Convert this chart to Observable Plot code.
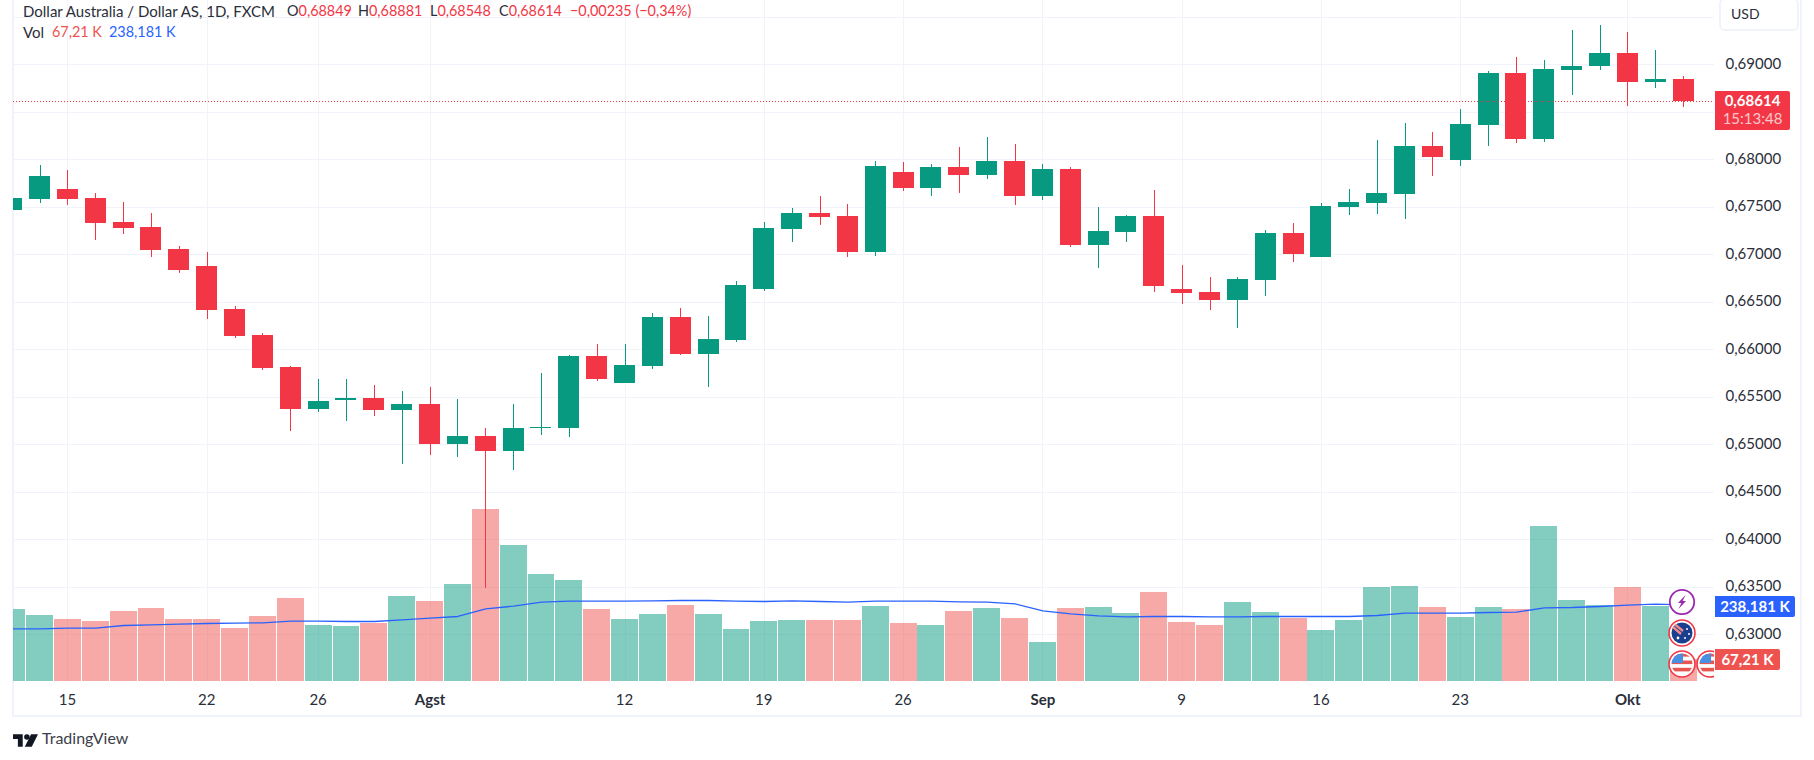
<!DOCTYPE html>
<html>
<head>
<meta charset="utf-8">
<script src="https://cdn.jsdelivr.net/npm/d3@7"></script>
<script src="https://cdn.jsdelivr.net/npm/@observablehq/plot@0.6"></script>
<style>
  html, body { margin: 0; padding: 0; background: #fff; }
  body { width: 1814px; height: 760px; position: relative; overflow: hidden; font-family: "Lato", "Open Sans", sans-serif; color: #131722; }
  #chart { position: absolute; left: 0; top: 0; }
  #chart svg { display: block; background: transparent; }
  .abs { position: absolute; white-space: nowrap; }
  .frame { position: absolute; left: 12px; top: 0; width: 1786px; height: 715px; border-left: 2px solid #f0f3fa; border-right: 2px solid #f0f3fa; border-bottom: 2px solid #f0f3fa; }
  .leg { font-size: 15px; line-height: 18px; color: #2a2e39; }
  .val { font-size: 14.4px; }
  .red { color: #f23645; }
  .tag { color: #fff; text-align: center; border-radius: 0 2px 2px 0; }
</style>
</head>
<body>
<div class="frame"></div>
<div id="chart"></div>
<script>
// Bars are trading days; index 0 is 15 Jul, index 58 is 3 Oct
const barIndex = d3.range(-2, 59);
const open = [
  .67467,.67582,.67688,.67593,.67340,.67288,.67056,.66877,.66424,.66151,.65814,.65372,.65467,.65488,.65361,.65424,
  .65003,.65088,.64930,.65172,.65172,.65930,.65646,.65824,.66340,.65951,.66098,.66635,.67267,.67435,.67403,.67025,
  .67867,.67698,.67919,.67835,.67982,.67614,.67898,.67098,.67235,.67403,.66635,.66603,.66519,.66730,.67224,.66972,
  .67498,.67540,.67635,.68140,.67993,.68361,.68909,.68214,.68940,.68982,.69119,.68814,.68849
];
const high = [
  .67600,.67940,.67888,.67646,.67551,.67435,.67088,.67025,.66456,.66172,.65824,.65688,.65688,.65624,.65561,.65603,
  .65477,.65172,.65424,.65751,.65940,.66056,.66056,.66382,.66435,.66351,.66719,.67340,.67488,.67614,.67530,.67982,
  .67972,.67951,.68130,.68235,.68161,.67951,.67919,.67498,.67414,.67677,.66888,.66761,.66761,.67256,.67330,.67540,
  .67688,.68203,.68382,.68288,.68530,.68930,.69077,.69046,.69361,.69414,.69340,.69151,.68881
];
const low = [
  .67450,.67540,.67519,.67151,.67214,.66972,.66803,.66319,.66119,.65782,.65140,.65340,.65245,.65298,.64793,.64888,
  .64867,.63490,.64730,.65098,.65077,.65667,.65640,.65793,.65945,.65603,.66077,.66614,.67129,.67309,.66972,.66982,
  .67667,.67614,.67646,.67793,.67519,.67572,.67077,.66856,.67130,.66603,.66477,.66414,.66224,.66561,.66919,.66970,
  .67414,.67424,.67372,.67824,.67930,.68140,.68172,.68182,.68677,.68940,.68561,.68751,.68548
];
const close = [
  .67593,.67825,.67582,.67330,.67277,.67046,.66835,.66414,.66140,.65803,.65372,.65456,.65488,.65361,.65424,.65003,
  .65088,.64930,.65172,.65182,.65930,.65688,.65835,.66340,.65951,.66109,.66677,.67277,.67435,.67393,.67025,.67930,
  .67698,.67919,.67835,.67982,.67614,.67898,.67098,.67246,.67403,.66667,.66593,.66519,.66740,.67225,.67003,.67509,
  .67551,.67646,.68140,.68025,.68372,.68909,.68214,.68951,.68982,.69119,.68814,.68846,.68614
];
const volume = [
  223.6,205.0,192.6,186.3,217.4,226.7,192.6,192.6,164.6,201.9,257.8,173.9,170.8,180.1,264.0,248.4,
  301.2,534.2,422.4,332.3,313.7,223.6,192.6,208.1,236.0,208.1,161.5,186.3,189.4,189.4,189.4,232.9,
  180.1,173.9,217.4,226.7,195.7,121.1,226.7,229.8,211.2,276.4,183.2,173.9,245.3,214.3,195.7,158.4,
  189.4,291.9,295.0,229.8,198.8,229.8,223.6,481.4,251.6,236.0,291.9,232.9,67.21
];
const volumeMA = [
  163.6,163.6,165.6,165.6,173.9,176.0,178.0,180.1,181.2,182.2,187.4,187.4,186.3,186.3,191.5,196.7,
  201.9,225.7,234.0,246.4,249.5,249.5,249.5,250.5,251.6,251.6,249.5,248.4,250.5,248.4,246.4,249.5,
  249.5,249.5,247.4,246.4,241.2,219.5,210.1,203.9,200.8,201.9,201.9,200.8,200.8,201.9,201.9,201.9,
  201.9,205.0,212.2,212.2,212.2,214.3,215.3,228.8,229.8,232.9,237.1,240.2,238.181
];
const dayTicks = [0, 5, 9, 20, 25, 30, 40, 45, 50];
const dayLabels = ["15", "22", "26", "12", "19", "26", "9", "16", "23"];
const monthTicks = [13, 35, 56];
const monthLabels = ["Agst", "Sep", "Okt"];
const priceTicks = d3.range(0, 14).map(k => +(0.63 + k * 0.005).toFixed(3));
const priceLabelTicks = priceTicks.filter(p => p <= 0.69 && p !== 0.685);

const GREEN = "#089981", RED = "#f23645", VOLRED = "#ef5350", BLUE = "#2962ff", GRID = "#f0f3fa", INK = "#2a2e39";
const FONT = "Lato, 'Open Sans', sans-serif";

const priceFloor = 0.625084, priceCeil = 0.696768;
// The volume pane shares the price scale: 1 K of volume is this many price units
const volumeUnit = 0.322 / 9500;
const volToY = v => priceFloor + v * volumeUnit;

const rows = barIndex.map((i, k) => ({
  i, o: open[k], h: high[k], l: low[k], c: close[k], v: volume[k], ma: volumeMA[k], up: close[k] >= open[k]
}));
const label = (ticks, labels) => d => labels[ticks.indexOf(d)];

const plot = Plot.plot({
  width: 1814, height: 760,
  marginLeft: 13, marginRight: 100, marginTop: 0, marginBottom: 79,
  x: {type: "linear", domain: [-1.953, 59.11], axis: null},
  y: {domain: [priceFloor, priceCeil], axis: null},
  style: {background: "transparent", fontFamily: FONT},
  marks: [
    Plot.gridY(priceTicks, {stroke: GRID, strokeOpacity: 1, strokeWidth: 1, shapeRendering: "crispEdges"}),
    Plot.gridX([...dayTicks, ...monthTicks], {stroke: GRID, strokeOpacity: 1, strokeWidth: 1, shapeRendering: "crispEdges"}),
    Plot.rect(rows, {
      x1: d => d.i - 0.483, x2: d => d.i + 0.483, y1: priceFloor, y2: d => volToY(d.v),
      fill: d => d.up ? GREEN : VOLRED, fillOpacity: 0.5, clip: true, shapeRendering: "crispEdges"
    }),
    Plot.line(rows, {x: "i", y: d => volToY(d.ma), stroke: BLUE, strokeWidth: 1.3, clip: true}),
    Plot.ruleX(rows.slice(1), {x: "i", y1: "l", y2: "h", stroke: d => d.up ? GREEN : RED, strokeWidth: 1, clip: true, shapeRendering: "crispEdges"}),
    Plot.rect(rows, {
      x1: d => d.i - 0.377, x2: d => d.i + 0.377,
      y1: d => Math.min(d.o, d.c), y2: d => Math.max(d.o, d.c),
      fill: d => d.up ? GREEN : RED, clip: true, shapeRendering: "crispEdges"
    }),
    Plot.ruleY([close.at(-1)], {stroke: RED, strokeWidth: 1, strokeDasharray: "1 2", shapeRendering: "crispEdges"}),
    Plot.axisY({
      anchor: "right", ticks: priceLabelTicks, tickSize: 0, tickPadding: 11, label: null, textAnchor: "start",
      tickFormat: d => d.toFixed(5).replace(".", ","), fontSize: 15, fill: INK, dy: -1
    }),
    Plot.axisX({
      anchor: "bottom", ticks: dayTicks, tickSize: 0, tickPadding: 13, label: null,
      tickFormat: label(dayTicks, dayLabels), fontSize: 15, fill: INK, dx: -0.5
    }),
    Plot.axisX({
      anchor: "bottom", ticks: monthTicks, tickSize: 0, tickPadding: 13, label: null,
      tickFormat: label(monthTicks, monthLabels), fontSize: 15, fontWeight: 700, fill: INK
    })
  ]
});
document.getElementById("chart").append(plot);

const usFlag = `<svg width="28" height="28" viewBox="0 0 28 28"><defs><clipPath id="cf"><circle cx="14" cy="14" r="10.5"/></clipPath></defs><circle cx="14" cy="14" r="13" fill="#fff" stroke="#f23645" stroke-width="1.6"/><g clip-path="url(#cf)"><rect width="28" height="28" fill="#fff"/><rect y="3" width="28" height="3.6" fill="#e8564f"/><rect y="10.5" width="28" height="3.6" fill="#e8564f"/><rect y="17.8" width="28" height="3.6" fill="#e8564f"/><rect x="3" y="3" width="12" height="10" fill="#4a90e2"/></g></svg>`;
const overlay = [
  ["abs leg", 23, 2, `Dollar Australia / Dollar AS, 1D, FXCM`],
  ["abs leg val", 287, 2, `O<span class="red">0,68849</span>`],
  ["abs leg val", 358, 2, `H<span class="red">0,68881</span>`],
  ["abs leg val", 430, 2, `L<span class="red">0,68548</span>`],
  ["abs leg val", 499, 2, `C<span class="red">0,68614</span>`],
  ["abs leg val red", 570, 2, `−0,00235 (−0,34%)`],
  ["abs leg", 23, 23, `Vol`],
  ["abs leg val", 52, 23, `<span style="color:#ef5350">67,21 K</span>`],
  ["abs leg val", 109, 23, `<span style="color:#2962ff">238,181 K</span>`]
];
overlay.forEach(([cls, x, y, html]) => {
  const el = document.createElement("div");
  el.className = cls; el.style.left = x + "px"; el.style.top = y + "px"; el.innerHTML = html;
  document.body.append(el);
});
document.body.insertAdjacentHTML("beforeend", `
  <div class="abs" style="left:1719px;top:-2px;width:76px;height:29px;border:2px solid #f0f3fa;border-radius:6px;font-size:14px;line-height:27px;background:#fff;color:#2a2e39"><span style="margin-left:10px">USD</span></div>
  <div class="abs tag" style="left:1715px;top:91px;width:75px;height:39px;background:#f23645">
    <div style="font-size:15px;line-height:18px;font-weight:700">0,68614</div>
    <div style="font-size:15px;line-height:19px;opacity:.72">15:13:48</div>
  </div>
  <div class="abs" style="left:1668px;top:588px;width:28px;height:28px"><svg width="28" height="28" viewBox="0 0 28 28"><circle cx="14" cy="14" r="12.2" fill="#fff" stroke="#9c27b0" stroke-width="1.8"/><path d="M17.5 7 L10 15 L13.4 15 L10.5 21 L18 13 L14.6 13 Z" fill="#9c27b0"/></svg></div>
  <div class="abs" style="left:1668px;top:619px;width:28px;height:28px"><svg width="28" height="28" viewBox="0 0 28 28"><circle cx="14" cy="14" r="13" fill="#fff" stroke="#f23645" stroke-width="1.6"/><circle cx="14" cy="14" r="10.5" fill="#1a3f8f"/><path d="M5 8 L13 15 M7 5.5 L15 12" stroke="#f08a8a" stroke-width="2.4"/><circle cx="19" cy="10" r="1" fill="#fff"/><circle cx="21" cy="15" r="1" fill="#fff"/><circle cx="17" cy="19" r="1" fill="#fff"/><circle cx="10" cy="19" r="1.4" fill="#fff"/></svg></div>
  <div class="abs" style="left:1668px;top:650px;width:28px;height:28px">${usFlag}</div>
  <div class="abs" style="left:1696px;top:650px;width:18px;height:28px;overflow:hidden">${usFlag}</div>
  <div class="abs tag" style="left:1715px;top:596px;width:80px;height:21px;line-height:21px;font-size:15px;font-weight:700;background:#2962ff">238,181 K</div>
  <div class="abs tag" style="left:1715px;top:649px;width:65px;height:21px;line-height:21px;font-size:15px;font-weight:700;background:#ef5350">67,21 K</div>
  <div class="abs" style="left:13px;top:731px;width:24px;height:13px"><svg width="25" height="13" viewBox="0 0 36 18"><path d="M0 0 H14 V18 H7 V7 H0 Z" fill="#131722"/><circle cx="20" cy="4" r="4" fill="#131722"/><path d="M26 0 H36 L27 18 H17 Z" fill="#131722"/></svg></div>
  <div class="abs" style="left:42px;top:729px;font-size:16px;line-height:18px;color:#3c404a">TradingView</div>
`);
</script>
</body>
</html>
